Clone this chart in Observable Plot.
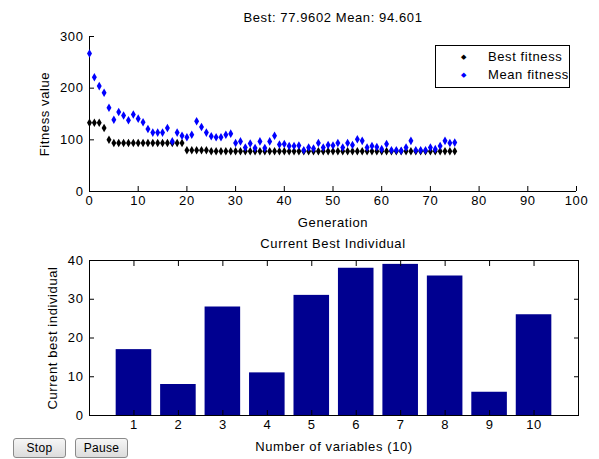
<!DOCTYPE html>
<html><head><meta charset="utf-8">
<script src="https://cdn.jsdelivr.net/npm/d3@7"></script>
<script src="https://cdn.jsdelivr.net/npm/@observablehq/plot@0.6"></script>
<style>
body{margin:0;background:#fff;}
#fig{position:relative;width:599px;height:459px;overflow:hidden;font-family:Arial,"Liberation Sans",sans-serif;font-size:13px;letter-spacing:0.6px;color:#000;background:#fff;}
#fig svg{position:absolute;left:0;}
.abs{position:absolute;white-space:nowrap;}
.legend{position:absolute;left:435px;top:45px;width:133px;height:41px;border:1px solid #000;background:#fff;}
.legend .row{position:absolute;left:0;height:16px;line-height:16px;}
.legend .mk{position:absolute;left:25px;font-size:7px;}
.legend .tx{position:absolute;left:52px;}
button{position:absolute;top:438px;height:20px;width:53px;font-family:Arial,"Liberation Sans",sans-serif;font-size:12px;letter-spacing:0.3px;background:linear-gradient(#f6f6f6,#dcdcdc);border:1px solid #8a8a8a;border-radius:3px;padding:0;}
</style></head>
<body><div id="fig"></div>
<script>
// Top panel: fitness per generation
const best = [133,133,133,123,100,94,94,94,94,94,94,94,94,94,94,94,94,94,94,94,
  80,80,80,80,80,78,78,78,78,78,78,78,78,78,78,78,78,78,78,78,
  78,78,78,78,78,78,78,78,78,78,78,78,78,78,78,78,78,78,78,78,
  78,78,78,78,78,78,78,78,78,78,78,78,78,78,78,77.96];
const mean = [267,221,204,191,162,139,154,147,138,149,141,134,121,114,114,114,123,97,114,108,
  105,110,136,125,114,107,105,105,110,112,94,97,85,93,84,97,84,97,108,91,
  92,88,88,89,80,85,83,94,85,90,89,94,85,94,90,101,98,85,88,86,
  82,92,80,80,79,85,98,80,80,80,85,82,88,98,94,94.601];
const generation = best.map((_, i) => i);
const genTicks = [0,10,20,30,40,50,60,70,80,90,100];
const fitTicks = [0,100,200,300];
const titleText = "Best: 77.9602 Mean: 94.601";
const seriesNames = ["Best fitness", "Mean fitness"];

// Bottom panel: current best individual
const variables = [1,2,3,4,5,6,7,8,9,10];
const values = [17,8,28,11,31,38,39,36,6,26];
const varTicks = [1,2,3,4,5,6,7,8,9,10];
const valTicks = [0,10,20,30,40];

const font = "Arial, 'Liberation Sans', sans-serif";
const fig = document.getElementById("fig");
const svgStyle = {fontFamily: font, fontSize: "13px", letterSpacing: "0.6px", background: "transparent", color: "#000", overflow: "visible"};

const topPlot = Plot.plot({
  width: 599, height: 232,
  marginLeft: 89, marginRight: 23, marginTop: 36, marginBottom: 41,
  style: svgStyle,
  x: {domain: [0, 100]},
  y: {domain: [0, 300]},
  marks: [
    Plot.axisX({ticks: genTicks, tickSize: -5, tickPadding: 9, tickFormat: d => d, label: "Generation", labelAnchor: "center", labelArrow: "none", labelOffset: 35}),
    Plot.axisY({ticks: fitTicks, tickSize: -5, tickPadding: 11, tickFormat: d => d, label: "Fitness value", labelAnchor: "center", labelArrow: "none", labelOffset: 50}),
    Plot.ruleX([0], {stroke: "#000"}),
    Plot.ruleY([0], {stroke: "#000"}),
    Plot.dot(best, {x: (d, i) => generation[i], y: d => d, symbol: "diamond", r: 2.6, fill: "#000", stroke: "none"}),
    Plot.dot(mean, {x: (d, i) => generation[i], y: d => d, symbol: "diamond", r: 2.6, fill: "#0000ff", stroke: "none"})
  ]
});
topPlot.style.top = "0px";
fig.appendChild(topPlot);

const botPlot = Plot.plot({
  width: 599, height: 227,
  marginLeft: 89, marginRight: 21, marginTop: 28, marginBottom: 44,
  style: svgStyle,
  x: {domain: [0, 11]},
  y: {domain: [0, 40]},
  marks: [
    Plot.rectY(values, {x1: (d, i) => variables[i] - 0.4, x2: (d, i) => variables[i] + 0.4, y1: 0, y2: d => d, fill: "#000090"}),
    Plot.frame({stroke: "#000"}),
    Plot.axisX({ticks: varTicks, tickSize: -5, tickPadding: 9, tickFormat: d => d, label: "Number of variables (10)", labelAnchor: "center", labelArrow: "none", labelOffset: 35}),
    Plot.axisX({anchor: "top", ticks: varTicks, tickSize: -5, tickFormat: () => "", label: null}),
    Plot.axisY({ticks: valTicks, tickSize: -5, tickPadding: 11, tickFormat: d => d, label: "Current best individual", labelAnchor: "center", labelArrow: "none", labelOffset: 42}),
    Plot.axisY({anchor: "right", ticks: valTicks, tickSize: -5, tickFormat: () => "", label: null})
  ]
});
botPlot.style.top = "232px";
fig.appendChild(botPlot);

function addText(txt, x, y) {
  const d = document.createElement("div");
  d.className = "abs";
  d.textContent = txt;
  d.style.left = x + "px";
  d.style.top = y + "px";
  d.style.transform = "translate(-50%,-50%)";
  fig.appendChild(d);
}
addText(titleText, 333, 17);
addText("Current Best Individual", 333, 243);

const leg = document.createElement("div");
leg.className = "legend";
[["#000", seriesNames[0], 3], ["#0000ff", seriesNames[1], 21]].forEach(([c, name, t]) => {
  const r = document.createElement("div");
  r.className = "row"; r.style.top = t + "px"; r.style.width = "133px";
  const m = document.createElement("span"); m.className = "mk"; m.style.color = c; m.textContent = "◆";
  const s = document.createElement("span"); s.className = "tx"; s.textContent = name;
  r.appendChild(m); r.appendChild(s); leg.appendChild(r);
});
fig.appendChild(leg);

[["Stop", 13], ["Pause", 75]].forEach(([t, x]) => {
  const b = document.createElement("button");
  b.textContent = t; b.style.left = x + "px";
  fig.appendChild(b);
});
</script>
</body></html>
